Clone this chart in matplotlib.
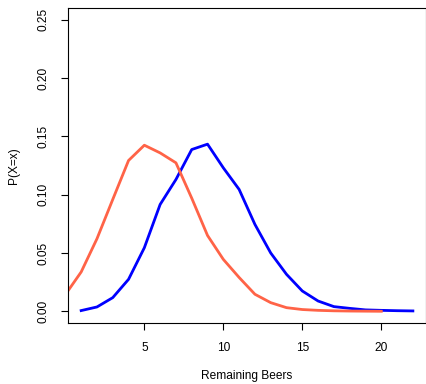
import matplotlib
matplotlib.use("Agg")
import matplotlib.pyplot as plt

plt.rcParams["font.family"] = ["Liberation Sans", "DejaVu Sans"]

# remaining beers distributions
beers_blue = list(range(1, 23))
prob_blue = [0.0006, 0.0037, 0.0117, 0.0274, 0.0545, 0.0916, 0.1130, 0.1387,
             0.1433, 0.1230, 0.1045, 0.0745, 0.0500, 0.0317, 0.0174, 0.0088,
             0.0040, 0.0025, 0.0012, 0.0008, 0.0005, 0.0003]

beers_red = list(range(0, 21))
prob_red = [0.0143, 0.0337, 0.0622, 0.0959, 0.1293, 0.1424, 0.1358, 0.1273,
            0.0970, 0.0650, 0.0445, 0.0290, 0.0146, 0.0074, 0.0031, 0.0015,
            0.0008, 0.0004, 0.0002, 0.0001, 0.0000]

x_ticks = [5, 10, 15, 20]
y_ticks = [0.00, 0.05, 0.10, 0.15, 0.20, 0.25]

fig = plt.figure(figsize=(4.27, 3.84), dpi=100)
ax = fig.add_axes([0.159, 0.159, 0.839, 0.820])

ax.plot(beers_blue, prob_blue, color="blue", linewidth=2)
ax.plot(beers_red, prob_red, color="tomato", linewidth=2)

# R style 4% padding on the data range
ax.set_xlim(1 - 0.04 * 21, 22 + 0.04 * 21)
ax.set_ylim(-0.01, 0.26)

ax.set_xticks(x_ticks)
ax.set_yticks(y_ticks)
ax.set_yticklabels([f"{v:.2f}" for v in y_ticks], rotation=90, va="center")

ax.tick_params(direction="out", length=5, width=0.8, labelsize=8.6, colors="black")
ax.tick_params(axis="x", pad=9)
ax.tick_params(axis="y", pad=8)

for s in ax.spines.values():
    s.set_linewidth(0.8)

ax.set_xlabel("Remaining Beers", fontsize=8.6, labelpad=11)
ax.set_ylabel("P(X=x)", fontsize=8.6, labelpad=13)

fig.savefig("out.png", dpi=100)
